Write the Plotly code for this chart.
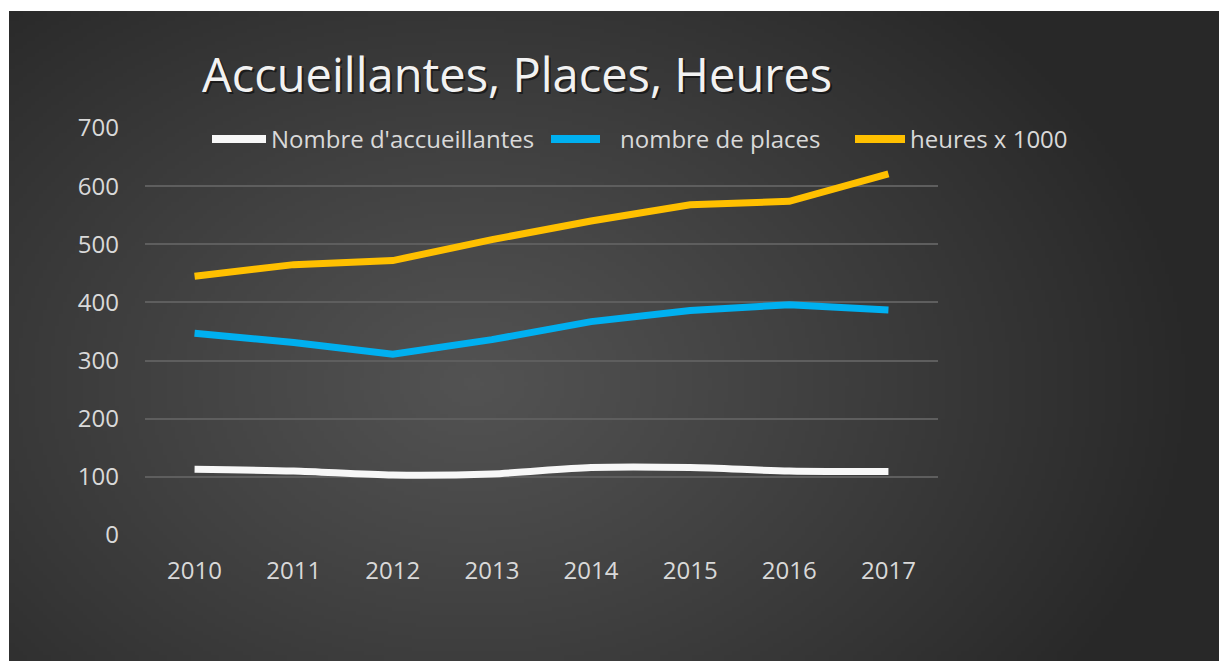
import base64, struct, zlib
import plotly.graph_objects as go

years = ["2010", "2011", "2012", "2013", "2014", "2015", "2016", "2017"]
accueillantes = [113, 110, 103, 105, 116, 116, 110, 109]
places = [347, 331, 311, 336, 367, 386, 396, 387]
heures = [445, 465, 472, 508, 540, 568, 574, 621]
series_names = ["Nombre d'accueillantes", "nombre de places", "heures x 1000"]
series_colors = ["#f7f7f7", "#00b0f0", "#ffc000"]
y_ticks = [0, 100, 200, 300, 400, 500, 600, 700]

OFF = 8  # page body margin
W, H = 1227 - OFF, 661 - OFF
PL, PR, PT, PB = 145 - OFF, 938 - OFF, 128 - OFF, 535 - OFF  # plot area (figure px)
pw, ph = PR - PL, PB - PT


def px_x(px):  # page pixel -> paper x
    return (px - OFF - PL) / pw


def px_y(py):  # page pixel -> paper y
    return (PB - (py - OFF)) / ph


def gradient_png(w, h, cx, cy, rx, ry, c_in, c_out):
    rows = []
    for j in range(h):
        row = bytearray([0])
        for i in range(w):
            r = (((i - cx) / rx) ** 2 + ((j - cy) / ry) ** 2) ** 0.5
            t = min(1.0, r) ** 1.1
            v = int(round(c_in + (c_out - c_in) * t))
            row += bytes([v, v, v])
        rows.append(bytes(row))
    raw = b"".join(rows)

    def chunk(tag, data):
        c = struct.pack(">I", len(data)) + tag + data
        return c + struct.pack(">I", zlib.crc32(tag + data) & 0xFFFFFFFF)

    png = b"\x89PNG\r\n\x1a\n"
    png += chunk(b"IHDR", struct.pack(">IIBBBBB", w, h, 8, 2, 0, 0, 0))
    png += chunk(b"IDAT", zlib.compress(raw, 9))
    png += chunk(b"IEND", b"")
    return "data:image/png;base64," + base64.b64encode(png).decode()


sc = 4
bx0, by0 = 9 - OFF, 11 - OFF
bw, bh = (W - bx0) // sc, (H - by0) // sc
img = gradient_png(bw, bh, (470 - OFF - bx0) / sc, (380 - OFF - by0) / sc, 720 / sc, 520 / sc, 0x52, 0x28)

fig = go.Figure()
fig.add_trace(go.Scatter(x=years, y=accueillantes, name=series_names[0], mode="lines",
                         line=dict(color=series_colors[0], width=7, shape="spline", smoothing=0.8)))
fig.add_trace(go.Scatter(x=years, y=places, name=series_names[1], mode="lines",
                         line=dict(color=series_colors[1], width=7)))
fig.add_trace(go.Scatter(x=years, y=heures, name=series_names[2], mode="lines",
                         line=dict(color=series_colors[2], width=7)))

font_fam = "'Open Sans', Lato, sans-serif"
fig.update_layout(
    width=W, height=H,
    margin=dict(l=PL, r=W - PR, t=PT, b=H - PB),
    paper_bgcolor="white",
    plot_bgcolor="rgba(0,0,0,0)",
    font=dict(family=font_fam, color="#d9d9d9", size=22),
    showlegend=False,
    xaxis=dict(type="category", range=[-0.5, 7.5], showgrid=False, zeroline=False,
               showline=False, ticks="", tickfont=dict(size=24, color="#d9d9d9"),
               ticklabelstandoff=19),
    yaxis=dict(range=[0, 700], tickvals=y_ticks, showgrid=True, gridcolor="#5e5e5e",
               gridwidth=1.5, zeroline=False, showline=False, ticks="",
               tickfont=dict(size=24, color="#d9d9d9"), ticklabelstandoff=25),
    images=[dict(source=img, xref="paper", yref="paper",
                 x=(bx0 - PL) / pw, y=(PB - by0) / ph,
                 sizex=(W - bx0) / pw, sizey=(H - by0) / ph,
                 xanchor="left", yanchor="top", sizing="stretch", layer="below")],
)

# legend drawn manually (long, thick keys as in the reference)
legend_keys = [(212, 266, 269), (551, 600, 618), (855, 905, 908)]
ly = 139
for (k0, k1, tx0), nm, col in zip(legend_keys, series_names, series_colors):
    fig.add_shape(type="line", xref="paper", yref="paper", x0=px_x(k0), x1=px_x(k1),
                  y0=px_y(ly), y1=px_y(ly), line=dict(color=col, width=8))
    fig.add_annotation(text=nm, xref="paper", yref="paper", x=px_x(tx0), y=px_y(ly),
                       xanchor="left", yanchor="middle", showarrow=False,
                       font=dict(family=font_fam, size=24, color="#d9d9d9"))

title = "Accueillantes, Places, Heures"
tx = px_x(200)
ty = px_y(74)
fig.add_annotation(text=title, xref="paper", yref="paper", x=tx, y=ty, xanchor="left",
                   yanchor="middle", showarrow=False, xshift=2, yshift=-2,
                   font=dict(family=font_fam, size=47, color="rgba(0,0,0,0.5)"))
fig.add_annotation(text=title, xref="paper", yref="paper", x=tx, y=ty, xanchor="left",
                   yanchor="middle", showarrow=False,
                   font=dict(family=font_fam, size=47, color="#f2f2f2"))

fig.write_html("out.html")
